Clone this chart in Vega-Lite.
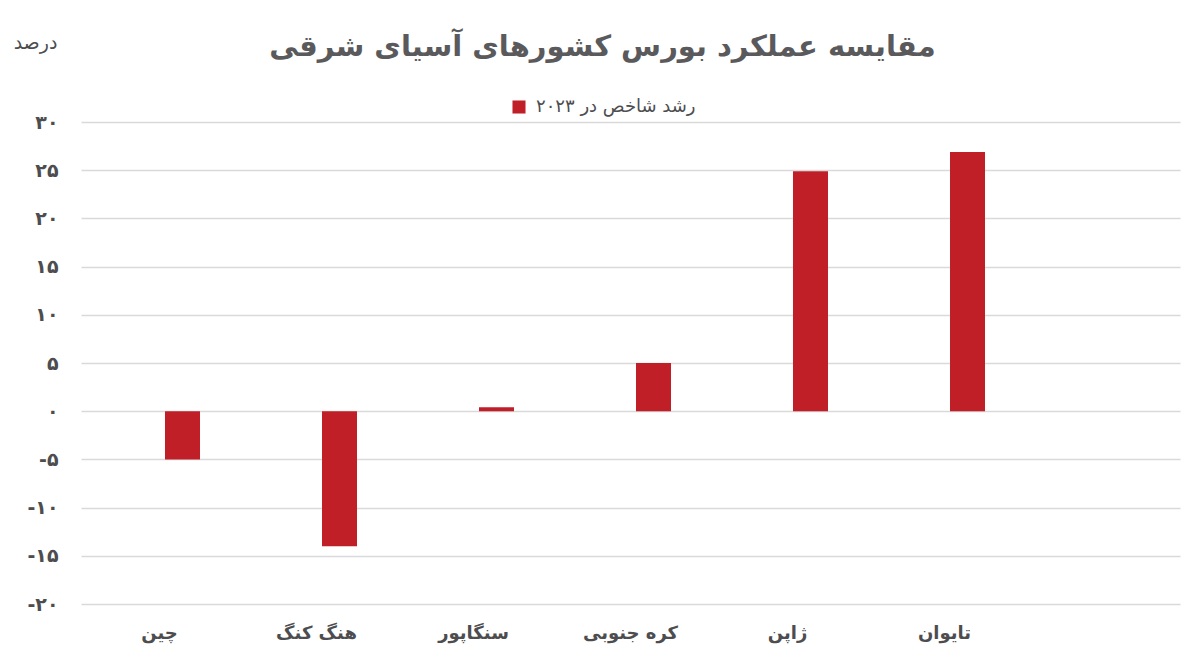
{
  "$schema": "https://vega.github.io/schema/vega-lite/v6.json",
  "width": 1099,
  "height": 482,
  "autosize": "none",
  "padding": {"left": 81, "top": 122, "right": 20, "bottom": 65},
  "background": "white",
  "title": {
    "text": "مقایسه عملکرد بورس کشورهای آسیای شرقی",
    "font": "DejaVu Sans",
    "fontSize": 29,
    "fontWeight": "bold",
    "color": "#5a5a5c",
    "anchor": "middle",
    "dx": -28,
    "offset": -29
  },
  "data": {
    "values": [
      {"country": "چین", "series": "رشد شاخص در ۲۰۲۳", "value": -5},
      {"country": "هنگ کنگ", "series": "رشد شاخص در ۲۰۲۳", "value": -14},
      {"country": "سنگاپور", "series": "رشد شاخص در ۲۰۲۳", "value": 0.4},
      {"country": "کره جنوبی", "series": "رشد شاخص در ۲۰۲۳", "value": 5},
      {"country": "ژاپن", "series": "رشد شاخص در ۲۰۲۳", "value": 24.9},
      {"country": "تایوان", "series": "رشد شاخص در ۲۰۲۳", "value": 26.9}
    ]
  },
  "mark": {"type": "bar", "xOffset": 23, "width": {"band": 0.223}},
  "encoding": {
    "x": {
      "field": "country",
      "type": "nominal",
      "sort": null,
      "scale": {
        "domain": ["چین", "هنگ کنگ", "سنگاپور", "کره جنوبی", "ژاپن", "تایوان", "_"],
        "paddingInner": 0,
        "paddingOuter": 0
      },
      "axis": {
        "title": null,
        "labelAngle": 0,
        "labelExpr": "datum.value == '_' ? '' : datum.value",
        "labelFont": "DejaVu Sans",
        "labelFontSize": 18,
        "labelFontWeight": "bold",
        "labelColor": "#4d4d4f",
        "labelPadding": 20,
        "labelBaseline": "top",
        "ticks": false,
        "domain": false,
        "grid": false
      }
    },
    "y": {
      "field": "value",
      "type": "quantitative",
      "scale": {"domain": [-20, 30], "nice": false, "zero": false},
      "axis": {
        "title": "درصد",
        "titleAngle": 0,
        "titleX": -46,
        "titleY": -80,
        "titleAlign": "center",
        "titleBaseline": "middle",
        "titleFont": "DejaVu Sans",
        "titleFontSize": 19,
        "titleFontWeight": "normal",
        "titleColor": "#4d4d4f",
        "values": [-20, -15, -10, -5, 0, 5, 10, 15, 20, 25, 30],
        "labelExpr": "(datum.value < 0 ? '-' : '') + replace(replace(replace(replace(replace(replace(replace(replace(replace(replace(format(abs(datum.value), 'd'), regexp('0','g'), '۰'), regexp('1','g'), '۱'), regexp('2','g'), '۲'), regexp('3','g'), '۳'), regexp('4','g'), '۴'), regexp('5','g'), '۵'), regexp('6','g'), '۶'), regexp('7','g'), '۷'), regexp('8','g'), '۸'), regexp('9','g'), '۹')",
        "labelFont": "DejaVu Sans",
        "labelFontSize": 19,
        "labelFontWeight": "bold",
        "labelColor": "#4d4d4f",
        "labelPadding": 23,
        "ticks": false,
        "domain": false,
        "grid": true,
        "gridColor": "#d9d9d9",
        "gridWidth": 1.5
      }
    },
    "color": {
      "field": "series",
      "type": "nominal",
      "scale": {"range": ["#c01f27"]},
      "legend": {
        "title": null,
        "orient": "none",
        "legendX": 429,
        "legendY": -24,
        "symbolType": "square",
        "symbolSize": 170,
        "labelFont": "DejaVu Sans",
        "labelFontSize": 18,
        "labelColor": "#4d4d4f",
        "labelOffset": 8
      }
    }
  },
  "config": {"view": {"stroke": null}}
}
